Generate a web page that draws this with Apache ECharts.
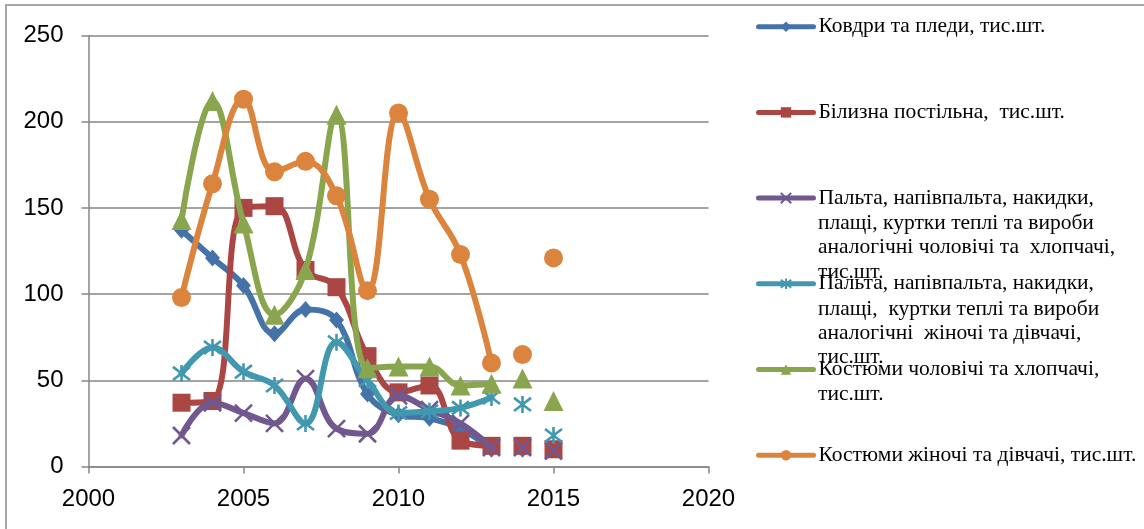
<!DOCTYPE html>
<html>
<head>
<meta charset="utf-8">
<script src="https://cdn.jsdelivr.net/npm/echarts@6/dist/echarts.min.js"></script>
<style>
html,body{margin:0;padding:0;background:#fff;}
#chart{width:1144px;height:529px;}
</style>
</head>
<body>
<div id="chart"></div>
<script>
// ---- data ----
const years = [2003, 2004, 2005, 2006, 2007, 2008, 2009, 2010, 2011, 2012, 2013, 2014, 2015];
const lastLinkedYear = 2013; // after this year the points are not joined by a line
const blanketsPlaids = [137, 121, 105, 77, 91, 85, 42, 30, 28, 22, 10, 10, 10];
const bedLinen      = [37, 38, 150, 151, 114, 104, 64, 43, 47, 15, 12, 12, 10];
const coatsMen      = [18, 37, 31, 25, 51, 22, 19, 41, 33, 25, 11, 11, 9];
const coatsWomen    = [54, 69, 55, 47, 25, 72, 50, 31, 32, 34, 40, 36, 18];
const suitsMen      = [143, 212, 141, 88, 114, 204, 57, 58, 58, 47, 48, 51, 38];
const suitsWomen    = [98, 164, 213, 171, 177, 157, 102, 205, 155, 123, 60, 65, 121];
const seriesNames = [
  'Ковдри та пледи, тис.шт.',
  'Білизна постільна,  тис.шт.',
  'Пальта, напівпальта, накидки,\nплащі, куртки теплі та вироби\nаналогічні чоловічі та  хлопчачі,\nтис.шт.',
  'Пальта, напівпальта, накидки,\nплащі,  куртки теплі та вироби\nаналогічні  жіночі та дівчачі,\nтис.шт.',
  'Костюми чоловічі та хлопчачі,\nтис.шт.',
  'Костюми жіночі та дівчачі, тис.шт.'
];
const xTicks = [2000, 2005, 2010, 2015, 2020];
const yTicks = [0, 50, 100, 150, 200, 250];

// ---- styles ----
const allValues = [blanketsPlaids, bedLinen, coatsMen, coatsWomen, suitsMen, suitsWomen];
const colors = ['#4572A7', '#AA4643', '#71588F', '#4198AF', '#89A54E', '#DB843D'];
const symbols = [
  'diamond',
  'rect',
  'path://M0,0L10,10M10,0L0,10',
  'path://M0,0L10,10M10,0L0,10M5,-1.5L5,11.5',
  'triangle',
  'circle'
];
const symbolSizes = [[15, 17], 18, 17, 17, 20, 19];
const strokeSymbols = [false, false, true, true, false, false];
const serifFont = '"Liberation Serif", "Times New Roman", "DejaVu Serif", serif';
const LINE_W = 6;

const series = [];
allValues.forEach((vals, i) => {
  const linked = [], loose = [];
  years.forEach((y, j) => {
    (y <= lastLinkedYear ? linked : loose).push([y, vals[j]]);
  });
  const itemStyle = strokeSymbols[i]
    ? { color: colors[i], borderColor: colors[i], borderWidth: 2.6, opacity: 1 }
    : { color: colors[i], borderWidth: 0, opacity: 1 };
  series.push({
    name: seriesNames[i],
    type: 'line',
    data: linked,
    smooth: 0.4,
    symbol: symbols[i],
    symbolSize: symbolSizes[i],
    showAllSymbol: true,
    color: colors[i],
    lineStyle: { color: colors[i], width: LINE_W, opacity: 1, cap: 'round' },
    emphasis: { scale: false, lineStyle: { width: LINE_W } },
    itemStyle: itemStyle,
    z: 2 + i
  });
  series.push({
    name: seriesNames[i] + ' ',
    type: 'scatter',
    data: loose,
    symbol: symbols[i],
    symbolSize: symbolSizes[i],
    itemStyle: itemStyle,
    z: 2 + i
  });
});

// continuation lines of the legend texts
const legendFirstY = 26.7, legendStep = 85.7, legendLineH = 24.3;
const graphics = [{
  type: 'rect',
  shape: { x: 6, y: 5, width: 1200, height: 600 },
  style: { fill: 'none', stroke: '#898989', lineWidth: 1.5 },
  silent: true
}];
seriesNames.forEach((n, i) => {
  const parts = n.split('\n');
  for (let k = 1; k < parts.length; k++) {
    graphics.push({
      type: 'text',
      x: 818,
      y: legendFirstY + legendStep * i + legendLineH * k + 1,
      style: {
        text: parts[k],
        fill: '#000',
        font: '21.5px ' + serifFont,
        verticalAlign: 'middle',
        align: 'left'
      },
      silent: true
    });
  }
});

const chart = echarts.init(document.getElementById('chart'), null, { renderer: 'canvas' });
chart.setOption({
  animation: false,
  backgroundColor: '#fff',
  grid: { left: 88.5, top: 35.5, width: 620, height: 431, containLabel: false },
  xAxis: {
    type: 'value',
    min: xTicks[0], max: xTicks[xTicks.length - 1], interval: 5,
    axisLine: { show: true, lineStyle: { color: '#868686', width: 1.5 } },
    axisTick: { show: true, inside: false, length: 7, lineStyle: { color: '#868686', width: 1.5 } },
    splitLine: { show: false },
    axisLabel: { color: '#000', fontSize: 24, fontFamily: 'Liberation Sans', margin: 21, formatter: (v) => String(v) }
  },
  yAxis: {
    type: 'value',
    min: yTicks[0], max: yTicks[yTicks.length - 1], interval: 50,
    axisLine: { show: true, lineStyle: { color: '#868686', width: 1.5 } },
    axisTick: { show: true, inside: false, length: 7, lineStyle: { color: '#868686', width: 1.5 } },
    splitLine: { show: true, lineStyle: { color: '#868686', width: 1.5 } },
    axisLabel: { color: '#000', fontSize: 24, fontFamily: 'Liberation Sans', margin: 25, formatter: (v) => String(v) }
  },
  legend: {
    orient: 'vertical',
    left: 756,
    top: legendFirstY - 12,
    padding: 0,
    itemWidth: 55,
    itemHeight: 13,
    itemGap: legendStep - 24,
    data: seriesNames,
    formatter: (name) => name.split('\n')[0],
    textStyle: { color: '#000', fontSize: 21.5, fontFamily: serifFont, lineHeight: 24 },
    lineStyle: { width: 5, cap: 'round' },
    selectedMode: false
  },
  graphic: graphics,
  series: series
});
</script>
</body>
</html>
